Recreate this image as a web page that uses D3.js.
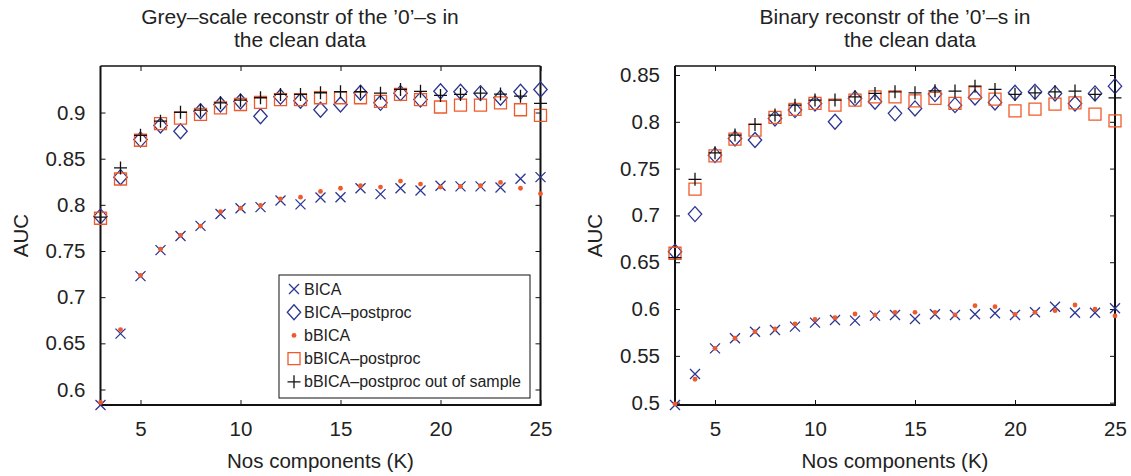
<!DOCTYPE html>
<html>
<head>
<meta charset="utf-8">
<script src="https://cdn.jsdelivr.net/npm/d3@7"></script>
<style>
  body { margin: 0; background: #fff; }
  svg { display: block; font-family: 'Liberation Sans', Arial, sans-serif; }
</style>
</head>
<body>
<svg id="chart" width="1131" height="476"></svg>
<script>
'use strict';

// number of components K
const comps = d3.range(3, 26);

// left panel: grey-scale reconstruction
const greyBica = [0.5832, 0.6605, 0.7228, 0.751, 0.7663, 0.7772, 0.79, 0.7964, 0.7975, 0.8047, 0.8005, 0.808,
  0.8083, 0.818, 0.8116, 0.818, 0.8156, 0.8207, 0.82, 0.82, 0.8188, 0.8283, 0.83];
const greyBicaPost = [0.7875, 0.83, 0.8707, 0.886, 0.8797, 0.9014, 0.9087, 0.912, 0.896, 0.917, 0.9128, 0.903,
  0.9087, 0.9214, 0.9105, 0.921, 0.914, 0.923, 0.9225, 0.921, 0.916, 0.9225, 0.925];
const greyBBica = [0.586, 0.6649, 0.7235, 0.752, 0.767, 0.777, 0.7927, 0.7964, 0.7993, 0.8065, 0.8083, 0.8145,
  0.818, 0.8207, 0.8192, 0.8257, 0.8225, 0.8192, 0.82, 0.8207, 0.8243, 0.818, 0.812];
const greyBBicaPost = [0.7855, 0.828, 0.87, 0.888, 0.894, 0.898, 0.905, 0.9087, 0.911, 0.914, 0.914, 0.916,
  0.916, 0.916, 0.912, 0.9196, 0.914, 0.906, 0.908, 0.908, 0.9105, 0.903, 0.897];
const greyOos = [0.7866, 0.84, 0.8753, 0.8906, 0.9003, 0.9025, 0.9105, 0.9134, 0.916, 0.9196, 0.9196, 0.9214,
  0.9225, 0.9225, 0.921, 0.925, 0.923, 0.9185, 0.9196, 0.921, 0.92, 0.9177, 0.91];

// right panel: binary reconstruction
const binBica = [0.4975, 0.5307, 0.558, 0.5688, 0.5758, 0.5776, 0.5812, 0.5855, 0.5883, 0.5876, 0.593, 0.5937,
  0.5894, 0.5944, 0.5937, 0.5944, 0.5955, 0.5937, 0.5965, 0.6025, 0.5961, 0.5961, 0.6008];
const binBicaPost = [0.6613, 0.7014, 0.7644, 0.7822, 0.7805, 0.8036, 0.8125, 0.8196, 0.8, 0.825, 0.8214, 0.809,
  0.8143, 0.8296, 0.8178, 0.826, 0.8207, 0.831, 0.832, 0.8303, 0.8196, 0.8303, 0.8381];
const binBBica = [0.4986, 0.525, 0.558, 0.5688, 0.5758, 0.5787, 0.584, 0.589, 0.5908, 0.5947, 0.5937, 0.5965,
  0.5965, 0.5965, 0.5937, 0.6036, 0.6025, 0.5944, 0.5965, 0.5983, 0.6043, 0.5998, 0.5926];
const binBBicaPost = [0.6596, 0.7281, 0.7637, 0.7815, 0.7911, 0.8047, 0.8132, 0.8196, 0.8178, 0.8232, 0.8267, 0.8267,
  0.8224, 0.825, 0.8196, 0.831, 0.8242, 0.8117, 0.8136, 0.8189, 0.8203, 0.8082, 0.801];
const binOos = [0.655, 0.7385, 0.7669, 0.7858, 0.7972, 0.8072, 0.8178, 0.8232, 0.8232, 0.8267, 0.8303, 0.832,
  0.831, 0.8331, 0.8328, 0.8381, 0.8346, 0.8293, 0.831, 0.832, 0.8328, 0.8293, 0.8256];

const xTicks = [5, 10, 15, 20, 25];
const greyYTicks = [0.6, 0.65, 0.7, 0.75, 0.8, 0.85, 0.9];
const binYTicks = [0.5, 0.55, 0.6, 0.65, 0.7, 0.75, 0.8, 0.85];
const legendLabels = ['BICA', 'BICA\u2013postproc', 'bBICA', 'bBICA\u2013postproc', 'bBICA\u2013postproc out of sample'];

const blue = '#2b3592';
const orange = '#f05a2b';

// marker shapes, drawn around (0,0)
const markers = [
  { path: 'M-5,-5L5,5M-5,5L5,-5', stroke: blue, fill: 'none' },
  { path: 'M0,-7.5L6.7,0L0,7.5L-6.7,0Z', stroke: blue, fill: 'none' },
  { dot: true, fill: orange },
  { path: 'M-6,-6H6V6H-6Z', stroke: orange, fill: 'none' },
  { path: 'M-6.5,0H6.5M0,-6.5V6.5', stroke: '#111', fill: 'none' },
];

const svg = d3.select('#chart');

function drawMarker(sel, m) {
  if (m.dot) {
    sel.append('circle').attr('r', 2.4).attr('fill', m.fill);
  } else {
    sel.append('path')
      .attr('d', m.path)
      .attr('fill', m.fill)
      .attr('stroke', m.stroke)
      .attr('stroke-width', 1.3);
  }
}

function drawPanel(p) {
  const xScale = d3.scaleLinear().domain([3, 25]).range([p.left, p.right]);
  const yScale = d3.scaleLinear().domain(p.yDomain).range([405, 66]);
  const g = svg.append('g');

  const tickFont = (sel) => {
    sel.select('.domain').remove();
    sel.selectAll('line').attr('stroke', '#111').attr('stroke-width', 1);
    sel.selectAll('text').attr('fill', '#222').style('font-size', '20.5px')
      .style('font-family', "'Liberation Sans', Arial, sans-serif");
  };

  g.append('g').attr('transform', 'translate(' + p.left + ',0)')
    .call(d3.axisLeft(yScale).tickValues(p.yTicks).tickSize(-5).tickPadding(15).tickFormat(d3.format('')))
    .call(tickFont);
  g.append('g').attr('transform', 'translate(' + p.right + ',0)')
    .call(d3.axisRight(yScale).tickValues(p.yTicks).tickSize(-5).tickFormat(''))
    .call(tickFont);
  g.append('g').attr('transform', 'translate(0,405)')
    .call(d3.axisBottom(xScale).tickValues(xTicks).tickSize(-5).tickPadding(16))
    .call(tickFont);
  g.append('g').attr('transform', 'translate(0,66)')
    .call(d3.axisTop(xScale).tickValues(xTicks).tickSize(-5).tickFormat(''))
    .call(tickFont);

  // box
  g.append('line').attr('x1', p.left).attr('x2', p.right).attr('y1', 66).attr('y2', 66)
    .attr('stroke', '#111').attr('stroke-width', 1.3);
  g.append('path')
    .attr('d', 'M' + p.left + ',66V405H' + p.right + 'V66')
    .attr('fill', 'none').attr('stroke', '#111').attr('stroke-width', 2);

  // series, in plotting order
  p.series.forEach(function(vals, i) {
    const pts = g.append('g').selectAll('g')
      .data(comps.map((k, j) => ({ k: k, v: vals[j] })))
      .enter().append('g')
      .attr('transform', (d) => 'translate(' + xScale(d.k) + ',' + yScale(d.v) + ')');
    drawMarker(pts, markers[i]);
  });

  // titles and labels
  p.title.forEach(function(t, i) {
    g.append('text').attr('x', t.x).attr('y', i === 0 ? 24 : 46.5)
      .attr('text-anchor', 'middle').style('font-size', '21px').attr('fill', '#222').text(t.s);
  });
  g.append('text').attr('x', (p.left + p.right) / 2).attr('y', 468)
    .attr('text-anchor', 'middle').style('font-size', '20.5px').attr('fill', '#222')
    .text('Nos components (K)');
  g.append('text')
    .attr('transform', 'translate(' + (p.left - 73) + ',235.5) rotate(-90)')
    .attr('text-anchor', 'middle').style('font-size', '20.5px').attr('fill', '#222')
    .text('AUC');

  return g;
}

const leftG = drawPanel({
  left: 100.5, right: 540.5,
  yDomain: [0.5832, 0.9504], yTicks: greyYTicks,
  series: [greyBica, greyBicaPost, greyBBica, greyBBicaPost, greyOos],
  title: [{ s: 'Grey\u2013scale reconstr of the \u20190\u2019\u2013s in', x: 300 }, { s: 'the clean data', x: 300 }],
});

drawPanel({
  left: 675, right: 1115,
  yDomain: [0.4975, 0.8596], yTicks: binYTicks,
  series: [binBica, binBicaPost, binBBica, binBBicaPost, binOos],
  title: [{ s: 'Binary reconstr of the \u20190\u2019\u2013s in', x: 895 }, { s: 'the clean data', x: 910 }],
});

// legend
const legend = leftG.append('g').attr('transform', 'translate(279,275)');
legend.append('rect').attr('width', 251).attr('height', 123)
  .attr('fill', '#fff').attr('stroke', '#111').attr('stroke-width', 1);
const rows = legend.selectAll('.legend')
  .data(legendLabels)
  .enter().append('g')
  .attr('class', 'legend')
  .attr('transform', (d, i) => 'translate(15,' + (14 + i * 23.2) + ')');
rows.each(function(d, i) {
  drawMarker(d3.select(this), markers[i]);
});
rows.append('text').attr('x', 10).attr('y', 5.5)
  .style('font-size', '16px').attr('fill', '#222').text((d) => d);
</script>
</body>
</html>
